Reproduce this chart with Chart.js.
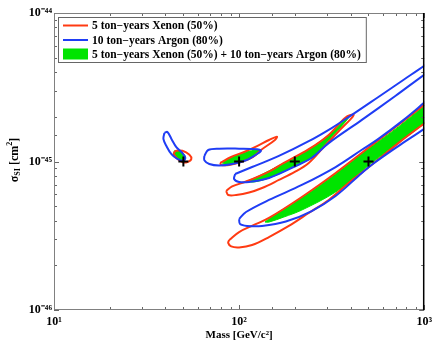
<!DOCTYPE html>
<html>
<head>
<meta charset="utf-8">
<script src="https://cdn.jsdelivr.net/npm/chart.js@4.4.1/dist/chart.umd.min.js"></script>
<style>
  html, body { margin: 0; padding: 0; background: #fff; }
  #wrap { width: 437px; height: 344px; }
</style>
</head>
<body>
<div id="wrap"><canvas id="c" width="437" height="344"></canvas></div>
<script>
// benchmark WIMP points: mass in GeV/c^2, cross-section in cm^2
const benchMass = [50, 100, 200, 500];
const benchSigma = [1e-45, 1e-45, 1e-45, 1e-45];

// contour outlines: [mass GeV/c^2, sigma in units of 1e-45 cm^2]
const SIG_UNIT = 1e-45;

const argon50 = [[39.5,1.56],[41.0,1.58],[43.1,1.42],[45.8,1.25],[49.4,1.14],[51.2,1.06],[50.0,1.01],[46.4,1.04],[43.1,1.12],[40.5,1.27],[39.0,1.42],[39.5,1.56]];
const xenon50 = [[44.2,1.14],[45.8,1.18],[49.4,1.18],[53.9,1.11],[55.2,1.04],[52.5,0.99],[49.4,0.99],[45.8,1.06],[44.2,1.14]];
const both50 = [[44.7,1.18],[47.6,1.18],[50.6,1.11],[51.2,1.04],[48.8,1.01],[45.8,1.06],[44.2,1.12],[44.7,1.18]];

const argon100 = [[64.9,1.09],[68.1,1.195],[78,1.22],[100,1.22],[125,1.21],[131.3,1.18],[123,1.11],[109,1.02],[91.7,0.962],[78,0.94],[69,0.962],[64.9,1.02],[64.9,1.09]];
const xenon100 = [[79,0.977],[90.6,1.072],[106.4,1.159],[125,1.27],[145,1.396],[160.1,1.47],[156.2,1.396],[131.3,1.195],[118.9,1.072],[102.5,0.992],[88.4,0.947],[80,0.947],[79,0.977]];
const both100 = [[81.1,0.977],[91.7,1.072],[109,1.159],[125,1.195],[131.3,1.18],[118.9,1.072],[101.2,0.992],[86.2,0.955],[81.1,0.977]];

const argon200 = [[95.2,0.824],[117.5,0.918],[164.1,1.09],[237.8,1.37],[316.2,1.68],[390.3,1.99],[565.6,2.72],[771.2,3.54],[1012.5,4.46],[1265.8,5.46],[1265.8,4.68],[1012.5,3.88],[698,2.76],[458.5,1.90],[304.7,1.33],[246.9,1.06],[202.5,0.933],[145,0.774],[113.2,0.728],[100,0.728],[94,0.763],[95.2,0.824]];
const xenon200 = [[85.1,0.633],[91.7,0.679],[109,0.733],[145,0.856],[170.3,0.962],[237.8,1.21],[304.7,1.51],[376.1,1.98],[415.2,2.07],[405.1,1.96],[344.8,1.60],[286.4,1.25],[237.8,0.977],[200,0.850],[164.1,0.751],[133,0.663],[113.2,0.618],[96.4,0.595],[87.3,0.595],[85.1,0.633]];
const both200 = [[109,0.733],[128.1,0.799],[170.3,0.962],[237.8,1.21],[304.7,1.51],[366.8,1.87],[390.3,1.98],[366.8,1.79],[316.2,1.46],[286.4,1.27],[246.9,1.06],[202.5,0.933],[145,0.774],[120.4,0.728],[109,0.733]];

const argon500 = [[100,0.41],[109,0.457],[145,0.551],[218.2,0.695],[332.3,0.918],[458.5,1.195],[565.6,1.42],[771.2,1.90],[1012.5,2.52],[1265.8,3.18],[1265.8,2.09],[1012.5,1.68],[724.8,1.27],[518.9,0.947],[441.8,0.799],[332.3,0.586],[246.9,0.464],[178.9,0.394],[133,0.368],[110.4,0.368],[101.2,0.379],[100,0.41]];
const xenon500 = [[88.4,0.296],[100,0.335],[120.4,0.374],[145,0.417],[218.2,0.577],[332.3,0.837],[481.8,1.195],[724.8,1.76],[1012.5,2.44],[1265.8,3.03],[1265.8,2.22],[1012.5,1.82],[724.8,1.33],[518.9,0.947],[390.3,0.717],[304.7,0.551],[237.8,0.45],[185.7,0.368],[145,0.31],[117.5,0.274],[100,0.264],[90.6,0.268],[87.3,0.283],[88.4,0.296]];
const both500 = [[138,0.391],[154.3,0.436],[218.2,0.572],[332.3,0.824],[481.8,1.18],[724.8,1.71],[1012.5,2.40],[1265.8,2.94],[1265.8,2.22],[1012.5,1.82],[724.8,1.33],[518.9,0.977],[441.8,0.824],[332.3,0.623],[218.2,0.471],[174.6,0.423],[145,0.391],[138,0.391]];

const xenonContours = [xenon50, xenon100, xenon200, xenon500];
const argonContours = [argon50, argon100, argon200, argon500];
const bothContours = [both50, both100, both200, both500];

const legendLabels = [
  "5 ton\u2212years Xenon (50%)",
  "10 ton\u2212years Argon (80%)",
  "5 ton\u2212years Xenon (50%) + 10 ton\u2212years Argon (80%)"
];

const RED = "#ff3a12";
const BLUE = "#1f3df5";
const GREEN = "#00e400";
const SERIF = '"Liberation Serif", "Times New Roman", serif';

const toPoints = arr => arr.map(p => ({ x: p[0], y: p[1] * SIG_UNIT }));

const supChars = { "0": "\u2070", "1": "\u00b9", "2": "\u00b2", "3": "\u00b3", "4": "\u2074", "5": "\u2075", "6": "\u2076", "7": "\u2077", "8": "\u2078", "9": "\u2079", "-": "\u207b" };
const sup = n => String(n).split("").map(c => supChars[c]).join("");
const decadeLabel = v => {
  const e = Math.log10(v);
  if (Math.abs(e - Math.round(e)) < 1e-6) return "10" + sup(Math.round(e));
  return "";
};
const isDecade = v => decadeLabel(v) !== "";

const datasets = [];
bothContours.forEach(c => datasets.push({
  data: toPoints(c), showLine: true, pointRadius: 0, borderColor: GREEN, borderWidth: 1,
  backgroundColor: GREEN, fill: "shape", tension: 0.35, order: 3, clip: 0
}));
xenonContours.forEach(c => datasets.push({
  data: toPoints(c), showLine: true, pointRadius: 0, borderColor: RED, borderWidth: 2,
  fill: false, tension: 0.35, order: 2, clip: 0
}));
argonContours.forEach(c => datasets.push({
  data: toPoints(c), showLine: true, pointRadius: 0, borderColor: BLUE, borderWidth: 2,
  fill: false, tension: 0.35, order: 1, clip: 0
}));
datasets.push({
  data: benchMass.map((m, i) => ({ x: m, y: benchSigma[i] })),
  showLine: false, pointStyle: "cross", pointRadius: 5, pointBorderWidth: 2,
  pointBorderColor: "#000", order: 0
});

// frame with inward tick marks on all four sides
const frameTicks = {
  id: "frameTicks",
  afterDatasetsDraw(chart) {
    const { ctx, chartArea: a, scales: { x, y } } = chart;
    ctx.save();
    ctx.lineWidth = 1;
    ctx.strokeStyle = "#666";
    ctx.beginPath();
    x.ticks.forEach(t => {
      const px = Math.round(x.getPixelForValue(t.value)) + 0.5;
      const len = isDecade(t.value) ? 5 : 3;
      ctx.moveTo(px, a.bottom); ctx.lineTo(px, a.bottom - len);
      ctx.moveTo(px, a.top); ctx.lineTo(px, a.top + len);
    });
    y.ticks.forEach(t => {
      const py = Math.round(y.getPixelForValue(t.value)) + 0.5;
      const len = isDecade(t.value) ? 5 : 3;
      ctx.moveTo(a.left, py); ctx.lineTo(a.left + len, py);
      ctx.moveTo(a.right, py); ctx.lineTo(a.right - len, py);
    });
    ctx.stroke();
    ctx.strokeStyle = "#808080";
    ctx.beginPath();
    ctx.moveTo(a.right, a.top + 0.5);
    ctx.lineTo(a.left + 0.5, a.top + 0.5);
    ctx.lineTo(a.left + 0.5, a.bottom - 0.5);
    ctx.lineTo(a.right, a.bottom - 0.5);
    ctx.stroke();
    ctx.strokeStyle = "#000";
    ctx.lineWidth = 1.5;
    ctx.beginPath();
    ctx.moveTo(a.right - 0.5, a.top);
    ctx.lineTo(a.right - 0.5, a.bottom);
    ctx.stroke();
    ctx.restore();
  }
};

// boxed legend in the upper-left corner of the plot
const boxLegend = {
  id: "boxLegend",
  afterDraw(chart) {
    const { ctx, chartArea: a } = chart;
    ctx.save();
    ctx.font = "bold 11.5px " + SERIF;
    const textW = Math.max(...legendLabels.map(t => ctx.measureText(t).width));
    const left = a.left + 4, top = a.top + 4;
    const textX = left + 34;
    const w = textX - left + textW + 5, h = 45;
    ctx.fillStyle = "#fff";
    ctx.fillRect(left, top, w, h);
    ctx.strokeStyle = "#666";
    ctx.lineWidth = 1;
    ctx.strokeRect(left + 0.5, top + 0.5, w, h);
    const rows = [top + 8.5, top + 23, top + 37.5];
    ctx.lineWidth = 2;
    ctx.strokeStyle = RED;
    ctx.beginPath(); ctx.moveTo(left + 5, rows[0]); ctx.lineTo(left + 30, rows[0]); ctx.stroke();
    ctx.strokeStyle = BLUE;
    ctx.beginPath(); ctx.moveTo(left + 5, rows[1]); ctx.lineTo(left + 30, rows[1]); ctx.stroke();
    ctx.fillStyle = GREEN;
    ctx.fillRect(left + 5, rows[2] - 6, 25, 11);
    ctx.fillStyle = "#000";
    ctx.textBaseline = "middle";
    legendLabels.forEach((t, i) => ctx.fillText(t, textX, rows[i] + 1));
    ctx.restore();
  }
};

// rotated y title with subscript and superscript
const yTitle = {
  id: "yTitle",
  afterDraw(chart) {
    const { ctx } = chart;
    const big = "bold 12px " + SERIF, small = "bold 8px " + SERIF;
    const parts = [["\u03c3", big, 0], ["SI", small, 3], [" [cm", big, 0], ["2", small, -5], ["]", big, 0]];
    ctx.save();
    ctx.translate(15, 160);
    ctx.rotate(-Math.PI / 2);
    ctx.fillStyle = "#000";
    ctx.textBaseline = "middle";
    let total = 0;
    parts.forEach(p => { ctx.font = p[1]; total += ctx.measureText(p[0]).width; });
    let cx = -total / 2;
    parts.forEach(p => {
      ctx.font = p[1];
      ctx.fillText(p[0], cx, p[2]);
      cx += ctx.measureText(p[0]).width;
    });
    ctx.restore();
  }
};

new Chart(document.getElementById("c"), {
  type: "scatter",
  data: { datasets },
  options: {
    responsive: false,
    animation: false,
    events: [],
    layout: { padding: { top: 13, right: 11, left: 0, bottom: 0 } },
    plugins: { legend: { display: false }, tooltip: { enabled: false } },
    scales: {
      x: {
        type: "logarithmic", min: 10, max: 1000,
        grid: { display: false, drawTicks: false }, border: { display: false },
        afterFit: s => { s.height = 34; },
        ticks: {
          autoSkip: false, maxRotation: 0, padding: 5, color: "#000",
          font: { family: SERIF, size: 12, weight: "bold" },
          callback: v => decadeLabel(v)
        },
        title: {
          display: true, text: "Mass [GeV/c\u00b2]", color: "#000",
          font: { family: SERIF, size: 11, weight: "bold" },
          padding: { top: 0, bottom: 2 }
        }
      },
      y: {
        type: "logarithmic", min: 1e-46, max: 1e-44,
        grid: { display: false, drawTicks: false }, border: { display: false },
        afterFit: s => { s.width = 54; },
        ticks: {
          autoSkip: false, padding: 2, color: "#000",
          font: { family: SERIF, size: 12, weight: "bold" },
          callback: v => decadeLabel(v)
        }
      }
    }
  },
  plugins: [frameTicks, boxLegend, yTitle]
});
</script>
</body>
</html>
